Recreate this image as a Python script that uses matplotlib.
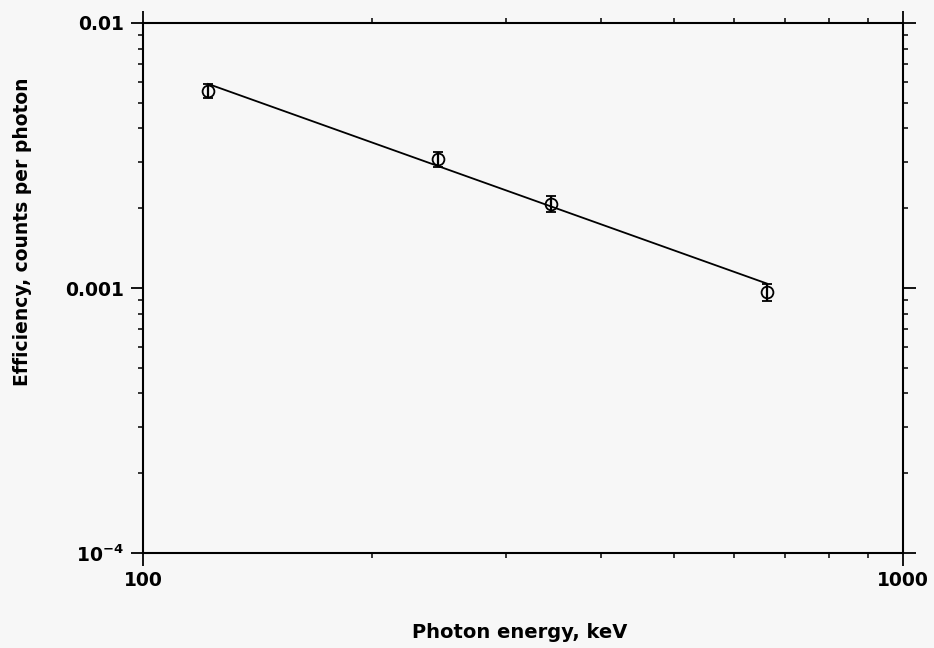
import numpy as np
import matplotlib
matplotlib.use('Agg')
import matplotlib.pyplot as plt
from matplotlib.ticker import FixedLocator, FixedFormatter, LogLocator, NullFormatter

plt.rcParams['font.family'] = ['DejaVu Sans']
plt.rcParams['font.weight'] = 'bold'
plt.rcParams['mathtext.fontset'] = 'dejavusans'
plt.rcParams['mathtext.default'] = 'bf'

# measured photopeak efficiencies
energy_kev = [121.8, 244.7, 344.3, 661.7]
efficiency = [0.00554, 0.00306, 0.00208, 0.000963]
eff_err = [0.00035, 0.00019, 0.00014, 0.00007]

# power-law fit end points
fit_energy = [121.8, 661.7]
fit_eff = [0.00589, 0.00104]

y_ticks = [1e-4, 1e-3, 1e-2]
y_tick_labels = ['10$^{-4}$', '0.001', '0.01']
x_ticks = [100, 1000]
x_tick_labels = ['100', '1000']

bg = '#f7f7f7'
fig = plt.figure(figsize=(9.34, 6.48), dpi=100, facecolor=bg)
ax = fig.add_axes([143 / 934, 1 - 553 / 648, 760 / 934, 530 / 648], facecolor=bg)

ax.set_xscale('log')
ax.set_yscale('log')
ax.set_xlim(100, 1000)
ax.set_ylim(1e-4, 1e-2)

ax.plot(fit_energy, fit_eff, color='black', linewidth=1.3)
ax.errorbar(energy_kev, efficiency, yerr=eff_err, fmt='o', mfc='none', mec='black',
            ecolor='black', ms=8.5, mew=1.3, elinewidth=1.6, capsize=3.5, capthick=2.4)

# ticks on all four sides, pointing outward
ax.xaxis.set_major_locator(FixedLocator(x_ticks))
ax.xaxis.set_major_formatter(FixedFormatter(x_tick_labels))
ax.yaxis.set_major_locator(FixedLocator(y_ticks))
ax.yaxis.set_major_formatter(FixedFormatter(y_tick_labels))
ax.xaxis.set_minor_locator(LogLocator(base=10, subs=np.arange(2, 10)))
ax.yaxis.set_minor_locator(LogLocator(base=10, subs=np.arange(2, 10)))
ax.xaxis.set_minor_formatter(NullFormatter())
ax.yaxis.set_minor_formatter(NullFormatter())
ax.tick_params(which='both', direction='out', top=True, right=True, color='black')
ax.tick_params(which='major', length=9, width=1.3, labelsize=13.5, pad=4)
ax.tick_params(which='minor', length=3.5, width=1.1)
ax.tick_params(axis='y', which='major', pad=5)
ax.tick_params(which='both', labeltop=False, labelright=False)

for s in ax.spines.values():
    s.set_linewidth(1.5)

fig.text(520 / 934, 1 - 633 / 648, 'Photon energy, keV', ha='center', va='center',
         fontsize=14, fontweight='bold')
fig.text(23 / 934, 1 - 232 / 648, 'Efficiency, counts per photon', ha='center',
         va='center', rotation=90, fontsize=13.5, fontweight='bold')

fig.savefig('out.png', dpi=100, facecolor=bg)
